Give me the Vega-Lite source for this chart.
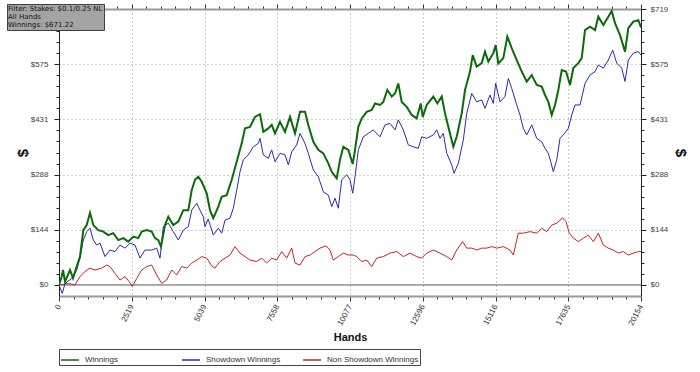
{
"$schema": "https://vega.github.io/schema/vega-lite/v6.json",
"width": 582,
"height": 287,
"autosize": {"type": "none"},
"padding": {"left": 59, "top": 9, "right": 59, "bottom": 76},
"background": "white",
"config": {"view": {"stroke": null}, "font": "Liberation Sans"},
"datasets": {
"winnings": [{"hands":0,"dollars":0},{"hands":94,"dollars":22},{"hands":139,"dollars":39},{"hands":208,"dollars":9},{"hands":381,"dollars":39},{"hands":485,"dollars":18},{"hands":613,"dollars":48},{"hands":727,"dollars":74},{"hands":842,"dollars":143},{"hands":959,"dollars":156},{"hands":1074,"dollars":188},{"hands":1188,"dollars":156},{"hands":1361,"dollars":143},{"hands":1534,"dollars":139},{"hands":1707,"dollars":130},{"hands":1880,"dollars":135},{"hands":2054,"dollars":117},{"hands":2227,"dollars":122},{"hands":2400,"dollars":113},{"hands":2573,"dollars":126},{"hands":2746,"dollars":122},{"hands":2864,"dollars":139},{"hands":3037,"dollars":143},{"hands":3210,"dollars":139},{"hands":3324,"dollars":122},{"hands":3439,"dollars":117},{"hands":3532,"dollars":100},{"hands":3671,"dollars":156},{"hands":3785,"dollars":178},{"hands":3958,"dollars":156},{"hands":4131,"dollars":165},{"hands":4305,"dollars":195},{"hands":4478,"dollars":195},{"hands":4595,"dollars":247},{"hands":4710,"dollars":274},{"hands":4824,"dollars":282},{"hands":4942,"dollars":269},{"hands":5115,"dollars":239},{"hands":5229,"dollars":195},{"hands":5343,"dollars":174},{"hands":5517,"dollars":204},{"hands":5634,"dollars":230},{"hands":5807,"dollars":234},{"hands":5981,"dollars":274},{"hands":6154,"dollars":321},{"hands":6327,"dollars":369},{"hands":6441,"dollars":408},{"hands":6614,"dollars":412},{"hands":6787,"dollars":438},{"hands":6961,"dollars":445},{"hands":7075,"dollars":399},{"hands":7248,"dollars":408},{"hands":7366,"dollars":417},{"hands":7480,"dollars":395},{"hands":7653,"dollars":425},{"hands":7826,"dollars":399},{"hands":8000,"dollars":438},{"hands":8173,"dollars":395},{"hands":8346,"dollars":451},{"hands":8519,"dollars":451},{"hands":8633,"dollars":417},{"hands":8807,"dollars":373},{"hands":8980,"dollars":352},{"hands":9153,"dollars":343},{"hands":9326,"dollars":317},{"hands":9444,"dollars":295},{"hands":9617,"dollars":278},{"hands":9731,"dollars":326},{"hands":9845,"dollars":360},{"hands":10019,"dollars":352},{"hands":10171,"dollars":315},{"hands":10251,"dollars":352},{"hands":10365,"dollars":412},{"hands":10483,"dollars":434},{"hands":10656,"dollars":451},{"hands":10829,"dollars":456},{"hands":10943,"dollars":473},{"hands":11116,"dollars":469},{"hands":11231,"dollars":477},{"hands":11369,"dollars":508},{"hands":11522,"dollars":491},{"hands":11636,"dollars":499},{"hands":11750,"dollars":525},{"hands":11868,"dollars":477},{"hands":12041,"dollars":464},{"hands":12214,"dollars":443},{"hands":12387,"dollars":434},{"hands":12526,"dollars":473},{"hands":12595,"dollars":438},{"hands":12734,"dollars":469},{"hands":12962,"dollars":491},{"hands":13101,"dollars":473},{"hands":13253,"dollars":491},{"hands":13367,"dollars":447},{"hands":13481,"dollars":412},{"hands":13655,"dollars":360},{"hands":13772,"dollars":386},{"hands":13946,"dollars":447},{"hands":14060,"dollars":508},{"hands":14233,"dollars":556},{"hands":14327,"dollars":599},{"hands":14465,"dollars":569},{"hands":14638,"dollars":578},{"hands":14752,"dollars":608},{"hands":14867,"dollars":582},{"hands":15040,"dollars":604},{"hands":15123,"dollars":625},{"hands":15213,"dollars":577},{"hands":15386,"dollars":591},{"hands":15525,"dollars":647},{"hands":15677,"dollars":617},{"hands":15851,"dollars":586},{"hands":16024,"dollars":556},{"hands":16197,"dollars":530},{"hands":16370,"dollars":547},{"hands":16543,"dollars":521},{"hands":16716,"dollars":517},{"hands":16830,"dollars":495},{"hands":16945,"dollars":477},{"hands":17062,"dollars":443},{"hands":17177,"dollars":469},{"hands":17291,"dollars":508},{"hands":17409,"dollars":560},{"hands":17558,"dollars":556},{"hands":17696,"dollars":521},{"hands":17810,"dollars":565},{"hands":17984,"dollars":578},{"hands":18101,"dollars":591},{"hands":18215,"dollars":664},{"hands":18389,"dollars":673},{"hands":18562,"dollars":664},{"hands":18676,"dollars":699},{"hands":18849,"dollars":677},{"hands":19022,"dollars":699},{"hands":19140,"dollars":714},{"hands":19254,"dollars":682},{"hands":19427,"dollars":651},{"hands":19601,"dollars":608},{"hands":19715,"dollars":669},{"hands":19888,"dollars":686},{"hands":20061,"dollars":690},{"hands":20154,"dollars":671}],
"showdown": [{"hands":0,"dollars":0},{"hands":114,"dollars":-22},{"hands":208,"dollars":4},{"hands":440,"dollars":17},{"hands":613,"dollars":39},{"hands":727,"dollars":70},{"hands":842,"dollars":117},{"hands":959,"dollars":139},{"hands":1074,"dollars":148},{"hands":1188,"dollars":117},{"hands":1306,"dollars":104},{"hands":1420,"dollars":109},{"hands":1593,"dollars":74},{"hands":1766,"dollars":91},{"hands":1939,"dollars":87},{"hands":2112,"dollars":104},{"hands":2286,"dollars":96},{"hands":2459,"dollars":109},{"hands":2632,"dollars":104},{"hands":2805,"dollars":70},{"hands":2978,"dollars":91},{"hands":3210,"dollars":91},{"hands":3383,"dollars":96},{"hands":3498,"dollars":70},{"hands":3612,"dollars":152},{"hands":3785,"dollars":161},{"hands":3958,"dollars":139},{"hands":4131,"dollars":117},{"hands":4305,"dollars":143},{"hands":4478,"dollars":152},{"hands":4595,"dollars":195},{"hands":4769,"dollars":213},{"hands":4883,"dollars":195},{"hands":4997,"dollars":178},{"hands":5054,"dollars":152},{"hands":5167,"dollars":172},{"hands":5343,"dollars":130},{"hands":5517,"dollars":148},{"hands":5634,"dollars":135},{"hands":5749,"dollars":169},{"hands":5922,"dollars":174},{"hands":6036,"dollars":200},{"hands":6154,"dollars":247},{"hands":6268,"dollars":295},{"hands":6382,"dollars":326},{"hands":6555,"dollars":339},{"hands":6729,"dollars":360},{"hands":6902,"dollars":369},{"hands":6961,"dollars":382},{"hands":7075,"dollars":339},{"hands":7248,"dollars":330},{"hands":7366,"dollars":352},{"hands":7480,"dollars":321},{"hands":7653,"dollars":343},{"hands":7826,"dollars":339},{"hands":7941,"dollars":313},{"hands":8059,"dollars":347},{"hands":8232,"dollars":365},{"hands":8346,"dollars":395},{"hands":8519,"dollars":369},{"hands":8633,"dollars":343},{"hands":8807,"dollars":300},{"hands":8980,"dollars":282},{"hands":9153,"dollars":243},{"hands":9326,"dollars":234},{"hands":9444,"dollars":204},{"hands":9558,"dollars":226},{"hands":9672,"dollars":200},{"hands":9790,"dollars":274},{"hands":9963,"dollars":287},{"hands":10077,"dollars":274},{"hands":10171,"dollars":239},{"hands":10251,"dollars":282},{"hands":10365,"dollars":352},{"hands":10538,"dollars":386},{"hands":10711,"dollars":395},{"hands":10884,"dollars":404},{"hands":11116,"dollars":386},{"hands":11289,"dollars":417},{"hands":11463,"dollars":421},{"hands":11636,"dollars":404},{"hands":11750,"dollars":430},{"hands":11923,"dollars":404},{"hands":12096,"dollars":365},{"hands":12270,"dollars":360},{"hands":12443,"dollars":356},{"hands":12560,"dollars":386},{"hands":12734,"dollars":382},{"hands":12962,"dollars":391},{"hands":13080,"dollars":404},{"hands":13194,"dollars":382},{"hands":13308,"dollars":395},{"hands":13426,"dollars":343},{"hands":13599,"dollars":313},{"hands":13679,"dollars":291},{"hands":13828,"dollars":317},{"hands":14001,"dollars":378},{"hands":14119,"dollars":447},{"hands":14292,"dollars":499},{"hands":14465,"dollars":477},{"hands":14638,"dollars":482},{"hands":14752,"dollars":460},{"hands":14925,"dollars":495},{"hands":15040,"dollars":473},{"hands":15123,"dollars":525},{"hands":15272,"dollars":477},{"hands":15445,"dollars":491},{"hands":15560,"dollars":538},{"hands":15677,"dollars":512},{"hands":15851,"dollars":469},{"hands":15965,"dollars":443},{"hands":16079,"dollars":408},{"hands":16197,"dollars":391},{"hands":16370,"dollars":417},{"hands":16543,"dollars":382},{"hands":16716,"dollars":373},{"hands":16830,"dollars":356},{"hands":16945,"dollars":343},{"hands":17028,"dollars":321},{"hands":17118,"dollars":295},{"hands":17236,"dollars":326},{"hands":17350,"dollars":382},{"hands":17464,"dollars":391},{"hands":17637,"dollars":408},{"hands":17755,"dollars":443},{"hands":17869,"dollars":469},{"hands":18042,"dollars":469},{"hands":18215,"dollars":525},{"hands":18389,"dollars":547},{"hands":18562,"dollars":556},{"hands":18676,"dollars":573},{"hands":18849,"dollars":565},{"hands":19022,"dollars":586},{"hands":19175,"dollars":612},{"hands":19313,"dollars":578},{"hands":19486,"dollars":565},{"hands":19601,"dollars":530},{"hands":19715,"dollars":586},{"hands":19888,"dollars":604},{"hands":20061,"dollars":608},{"hands":20154,"dollars":599}],
"nonshowdown": [{"hands":0,"dollars":0},{"hands":322,"dollars":4},{"hands":554,"dollars":0},{"hands":727,"dollars":22},{"hands":900,"dollars":35},{"hands":1074,"dollars":44},{"hands":1247,"dollars":39},{"hands":1479,"dollars":44},{"hands":1652,"dollars":52},{"hands":1766,"dollars":48},{"hands":1939,"dollars":30},{"hands":2112,"dollars":13},{"hands":2286,"dollars":22},{"hands":2424,"dollars":9},{"hands":2538,"dollars":-4},{"hands":2691,"dollars":17},{"hands":2864,"dollars":39},{"hands":3037,"dollars":48},{"hands":3210,"dollars":52},{"hands":3383,"dollars":26},{"hands":3557,"dollars":4},{"hands":3730,"dollars":13},{"hands":3903,"dollars":39},{"hands":4076,"dollars":26},{"hands":4249,"dollars":48},{"hands":4422,"dollars":44},{"hands":4595,"dollars":57},{"hands":4769,"dollars":65},{"hands":4942,"dollars":74},{"hands":5115,"dollars":70},{"hands":5288,"dollars":50},{"hands":5402,"dollars":44},{"hands":5575,"dollars":61},{"hands":5749,"dollars":70},{"hands":5922,"dollars":78},{"hands":6095,"dollars":100},{"hands":6268,"dollars":83},{"hands":6441,"dollars":74},{"hands":6614,"dollars":65},{"hands":6846,"dollars":61},{"hands":7020,"dollars":70},{"hands":7193,"dollars":57},{"hands":7366,"dollars":70},{"hands":7539,"dollars":65},{"hands":7712,"dollars":87},{"hands":7885,"dollars":70},{"hands":8059,"dollars":96},{"hands":8173,"dollars":57},{"hands":8346,"dollars":52},{"hands":8519,"dollars":74},{"hands":8692,"dollars":78},{"hands":8865,"dollars":87},{"hands":9038,"dollars":96},{"hands":9246,"dollars":102},{"hands":9385,"dollars":91},{"hands":9499,"dollars":65},{"hands":9672,"dollars":74},{"hands":9845,"dollars":83},{"hands":10019,"dollars":78},{"hands":10192,"dollars":78},{"hands":10309,"dollars":74},{"hands":10483,"dollars":61},{"hands":10656,"dollars":65},{"hands":10829,"dollars":48},{"hands":11002,"dollars":70},{"hands":11231,"dollars":74},{"hands":11463,"dollars":83},{"hands":11695,"dollars":87},{"hands":11923,"dollars":74},{"hands":12155,"dollars":83},{"hands":12387,"dollars":74},{"hands":12560,"dollars":70},{"hands":12734,"dollars":83},{"hands":12962,"dollars":91},{"hands":13194,"dollars":83},{"hands":13426,"dollars":74},{"hands":13599,"dollars":65},{"hands":13772,"dollars":91},{"hands":13980,"dollars":113},{"hands":14119,"dollars":96},{"hands":14292,"dollars":96},{"hands":14465,"dollars":91},{"hands":14638,"dollars":96},{"hands":14811,"dollars":96},{"hands":14984,"dollars":100},{"hands":15158,"dollars":96},{"hands":15386,"dollars":100},{"hands":15618,"dollars":91},{"hands":15733,"dollars":78},{"hands":15826,"dollars":109},{"hands":15906,"dollars":135},{"hands":16079,"dollars":135},{"hands":16311,"dollars":139},{"hands":16543,"dollars":135},{"hands":16716,"dollars":148},{"hands":16889,"dollars":139},{"hands":17062,"dollars":156},{"hands":17236,"dollars":161},{"hands":17443,"dollars":175},{"hands":17558,"dollars":165},{"hands":17672,"dollars":135},{"hands":17810,"dollars":122},{"hands":17984,"dollars":113},{"hands":18157,"dollars":122},{"hands":18330,"dollars":130},{"hands":18503,"dollars":113},{"hands":18676,"dollars":135},{"hands":18849,"dollars":104},{"hands":19022,"dollars":96},{"hands":19195,"dollars":91},{"hands":19368,"dollars":83},{"hands":19541,"dollars":87},{"hands":19715,"dollars":78},{"hands":19888,"dollars":83},{"hands":20061,"dollars":87},{"hands":20154,"dollars":87}]
},
"layer": [
{
"data": {"values": [{"ref": 0}]},
"mark": {"type": "rule", "color": "#555555", "strokeWidth": 1},
"encoding": {
"x": {"datum": 0, "type": "quantitative", "scale": {"domain": [0, 20154], "nice": false, "zero": false},
"axis": {"orient": "top", "title": null, "labels": false, "grid": false,
"values": [0,503.85,1007.7,1511.55,2015.4,2519.25,3023.1,3526.95,4030.8,4534.65,5038.5,5542.35,6046.2,6550.05,7053.9,7557.75,8061.6,8565.45,9069.3,9573.15,10077,10580.85,11084.7,11588.55,12092.4,12596.25,13100.1,13603.95,14107.8,14611.65,15115.5,15619.35,16123.2,16627.05,17130.9,17634.75,18138.6,18642.45,19146.3,19650.15,20154],
"tickSize": {"condition": {"test": "abs(datum.value/2519.25 - round(datum.value/2519.25)) < 0.01", "value": 5}, "value": 3},
"tickColor": "#333", "domainColor": "#999", "domainWidth": 2}},
"x2": {"datum": 20154},
"y": {"datum": 0, "type": "quantitative", "scale": {"domain": [-28.7, 719], "nice": false, "zero": false},
"axis": {"orient": "right", "grid": false,
"values": [0,28.76,57.52,86.28,115.04,143.8,172.56,201.32,230.08,258.84,287.6,316.36,345.12,373.88,402.64,431.4,460.16,488.92,517.68,546.44,575.2,603.96,632.72,661.48,690.24,719],
"labelExpr": "abs(datum.value/143.8 - round(datum.value/143.8)) < 0.01 ? '$' + round(datum.value) : ''",
"tickSize": {"condition": {"test": "abs(datum.value/143.8 - round(datum.value/143.8)) < 0.01", "value": 5}, "value": 3},
"tickColor": "#222", "domainColor": "#222", "labelFontSize": 8, "labelColor": "#444", "labelPadding": 4, "labelOverlap": false, "labelBound": false,
"title": "$", "titleFontSize": 15, "titleFontWeight": "bold", "titleColor": "#111", "titlePadding": 5}},
"opacity": {"datum": "info", "type": "ordinal", "scale": {"range": [1, 1]},
"legend": {"orient": "none", "legendX": -52, "legendY": -5,
"title": ["Filter: Stakes: $0.1/0.25 NL", "All Hands", "Winnings: $671.22"],
"titleFont": "DejaVu Sans", "titleFontSize": 7, "titleFontWeight": "normal", "titleColor": "#111", "titleLineHeight": 8, "titlePadding": 0, "titleLimit": 200,
"fillColor": "#a4a4a4", "strokeColor": "#404040", "padding": 1,
"symbolOpacity": 0, "symbolSize": 0, "labelFontSize": 0, "labelExpr": "''", "rowPadding": 0, "clipHeight": 0.5}}
}
},
{
"data": {"name": "nonshowdown"},
"mark": {"type": "line", "clip": true, "strokeWidth": 1},
"encoding": {
"x": {"field": "hands", "type": "quantitative", "scale": {"domain": [0, 20154], "nice": false, "zero": false}, "axis": null},
"y": {"field": "dollars", "type": "quantitative", "scale": {"domain": [-28.7, 719], "nice": false, "zero": false}, "axis": null},
"color": {"datum": "Non Showdown Winnings", "type": "nominal"}
}
},
{
"data": {"name": "showdown"},
"mark": {"type": "line", "clip": true, "strokeWidth": 1},
"encoding": {
"x": {"field": "hands", "type": "quantitative", "scale": {"domain": [0, 20154], "nice": false, "zero": false}, "axis": null},
"y": {"field": "dollars", "type": "quantitative", "scale": {"domain": [-28.7, 719], "nice": false, "zero": false}, "axis": null},
"color": {"datum": "Showdown Winnings", "type": "nominal"}
}
},
{
"data": {"name": "winnings"},
"mark": {"type": "line", "clip": true, "strokeWidth": 2},
"encoding": {
"x": {"field": "hands", "type": "quantitative", "scale": {"domain": [0, 20154], "nice": false, "zero": false},
"axis": {"orient": "bottom",
"values": [0,503.85,1007.7,1511.55,2015.4,2519.25,3023.1,3526.95,4030.8,4534.65,5038.5,5542.35,6046.2,6550.05,7053.9,7557.75,8061.6,8565.45,9069.3,9573.15,10077,10580.85,11084.7,11588.55,12092.4,12596.25,13100.1,13603.95,14107.8,14611.65,15115.5,15619.35,16123.2,16627.05,17130.9,17634.75,18138.6,18642.45,19146.3,19650.15,20154],
"labelExpr": "abs(datum.value/2519.25 - round(datum.value/2519.25)) < 0.01 ? '' + round(datum.value) : ''",
"labelAngle": -62, "labelAlign": "right", "labelBaseline": "middle", "labelFontSize": 8, "labelColor": "#333", "labelPadding": 4, "labelOverlap": false, "labelBound": false, "labelFlush": false,
"tickSize": {"condition": {"test": "abs(datum.value/2519.25 - round(datum.value/2519.25)) < 0.01", "value": 5}, "value": 3},
"tickColor": "#333", "domainColor": "#999", "domainWidth": 2,
"grid": true, "gridDash": [1, 3], "gridColor": "#999",
"gridOpacity": {"condition": {"test": "abs(datum.value/2519.25 - round(datum.value/2519.25)) < 0.01", "value": 1}, "value": 0},
"title": "Hands", "titleFontSize": 11, "titleFontWeight": "bold", "titleColor": "#111", "titlePadding": 5}},
"y": {"field": "dollars", "type": "quantitative", "scale": {"domain": [-28.7, 719], "nice": false, "zero": false},
"axis": {"orient": "left",
"values": [0,28.76,57.52,86.28,115.04,143.8,172.56,201.32,230.08,258.84,287.6,316.36,345.12,373.88,402.64,431.4,460.16,488.92,517.68,546.44,575.2,603.96,632.72,661.48,690.24,719],
"labelExpr": "abs(datum.value/143.8 - round(datum.value/143.8)) < 0.01 ? '$' + round(datum.value) : ''",
"tickSize": {"condition": {"test": "abs(datum.value/143.8 - round(datum.value/143.8)) < 0.01", "value": 5}, "value": 3},
"tickColor": "#222", "domainColor": "#222", "labelFontSize": 8, "labelColor": "#444", "labelPadding": 6, "labelOverlap": false, "labelBound": false,
"grid": true, "gridDash": [1, 3], "gridColor": "#999",
"gridOpacity": {"condition": {"test": "abs(datum.value/143.8 - round(datum.value/143.8)) < 0.01 && datum.value > 1 && datum.value < 700", "value": 1}, "value": 0},
"title": "$", "titleFontSize": 15, "titleFontWeight": "bold", "titleColor": "#111", "titlePadding": 0}},
"color": {"datum": "Winnings", "type": "nominal",
"scale": {"domain": ["Winnings", "Showdown Winnings", "Non Showdown Winnings"], "range": ["#0b6b0b", "#2a2ab0", "#cc2222"]},
"legend": {"orient": "none", "legendX": 0, "legendY": 340, "direction": "horizontal", "columns": 3, "title": null,
"strokeColor": "#444", "fillColor": "white", "padding": 1, "symbolType": "stroke", "symbolSize": 324,
"labelFontSize": 8, "labelColor": "#333", "labelOffset": 5, "columnPadding": 2, "gridAlign": "all", "symbolStrokeWidth": 1.5}}
}
}
],
"resolve": {"axis": {"x": "independent", "y": "independent"}}
}
